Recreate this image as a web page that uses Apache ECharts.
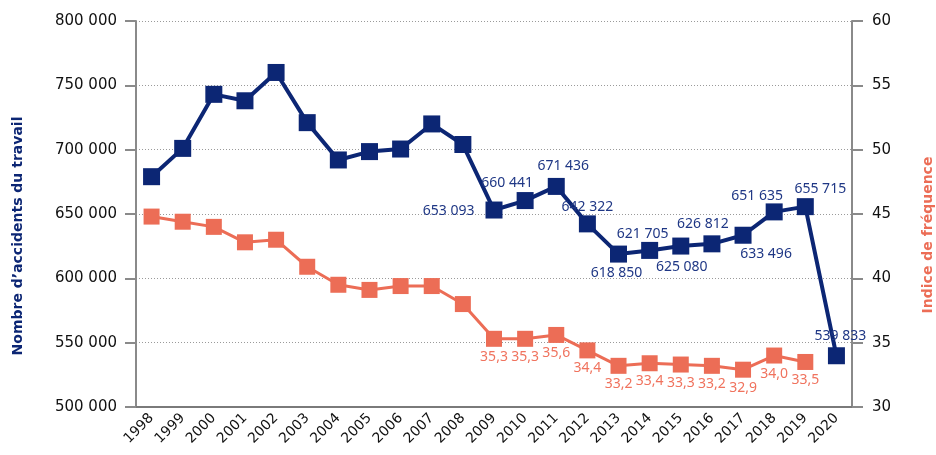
<!DOCTYPE html>
<html>
<head>
<meta charset="utf-8">
<script src="https://cdn.jsdelivr.net/npm/echarts@6/dist/echarts.min.js"></script>
<style>html,body{margin:0;padding:0;background:#fff}#c{width:936px;height:455px}</style>
</head>
<body>
<div id="c"></div>
<script>
const years = ['1998','1999','2000','2001','2002','2003','2004','2005','2006','2007','2008','2009','2010','2011','2012','2013','2014','2015','2016','2017','2018','2019','2020'];
const accidents = [679000, 701000, 743000, 738000, 760000, 721000, 692000, 698500, 700500, 720000, 704000, 653093, 660441, 671436, 642322, 618850, 621705, 625080, 626812, 633496, 651635, 655715, 539833];
const frequency = [44.8, 44.4, 44.0, 42.8, 43.0, 40.9, 39.5, 39.1, 39.4, 39.4, 38.0, 35.3, 35.3, 35.6, 34.4, 33.2, 33.4, 33.3, 33.2, 32.9, 34.0, 33.5, null];
const leftTicks = [500000, 800000, 50000];
const rightTicks = [30, 60, 5];
const leftTitle = "Nombre d’accidents du travail";
const rightTitle = 'Indice de fréquence';
const firstLabelled = 11; // 2009
// label placement for accidents labels (index from 2009)
const accLabelPlace = [
  ['left', [-6, 1]],
  ['top', [-18, 3]],
  ['top', [7, 0]],
  ['top', [0, 4]],
  ['bottom', [-2, -2]],
  ['top', [-7, 4]],
  ['bottom', [1, 0]],
  ['top', [-9, 1]],
  ['bottom', [23, -2]],
  ['top', [-17, 5]],
  ['top', [15, 3]],
  ['top', [4, 1]]
];
const BLUE = '#0c2674', ORANGE = '#ec6d56';
const BLUE_TXT = '#1f3785', ORANGE_TXT = '#f0735e';
const FONT = 'DejaVu Sans';
const LFONT = 'Noto Sans';
const fmtThousands = v => String(Math.round(v)).replace(/\B(?=(\d{3})+(?!\d))/g, ' ');
const fmtDec = v => v.toFixed(1).replace('.', ',');

const accData = accidents.map((v, i) => {
  if (i < firstLabelled) return v;
  const p = accLabelPlace[i - firstLabelled];
  return {value: v, label: {show: true, position: p[0], offset: p[1]}};
});
const freqData = frequency.map((v, i) => {
  if (v == null) return null;
  if (i < firstLabelled) return v;
  return {value: v, label: {show: true, position: 'bottom', offset: [0, -2]}};
});

const chart = echarts.init(document.getElementById('c'), null, {renderer: 'canvas'});
chart.setOption({
  animation: false,
  grid: {left: 136, right: 84, top: 21, bottom: 48, containLabel: false, outerBoundsMode: 'none'},
  graphic: [{
    type: 'text',
    rotation: Math.PI / 2,
    style: {text: leftTitle, fill: BLUE, font: 'bold 14px "DejaVu Sans"', textAlign: 'center', textVerticalAlign: 'middle'},
    x: 18, y: 236
  }, {
    type: 'text',
    rotation: Math.PI / 2,
    style: {text: rightTitle, fill: ORANGE, font: 'bold 14px "DejaVu Sans"', textAlign: 'center', textVerticalAlign: 'middle'},
    x: 928, y: 235
  }],
  xAxis: {
    type: 'category',
    data: years,
    boundaryGap: true,
    axisLine: {lineStyle: {color: '#7a7a7a', width: 2}},
    axisTick: {alignWithLabel: true, length: 8, lineStyle: {color: '#8a8a8a', width: 1}},
    axisLabel: {rotate: 45, margin: 9, color: '#111', fontFamily: FONT, fontSize: 14, interval: 0}
  },
  yAxis: [{
    type: 'value',
    min: leftTicks[0], max: leftTicks[1], interval: leftTicks[2],
    position: 'left',
    axisLine: {show: true, lineStyle: {color: '#8a8a8a', width: 2}},
    axisTick: {show: true, length: 11, lineStyle: {color: '#8a8a8a', width: 2}},
    axisLabel: {margin: 19, color: '#111', fontFamily: FONT, fontSize: 15, formatter: fmtThousands},
    splitLine: {show: true, lineStyle: {color: '#9a9a9a', type: [1, 2], width: 1}}
  }, {
    type: 'value',
    min: rightTicks[0], max: rightTicks[1], interval: rightTicks[2],
    position: 'right',
    axisLine: {show: true, lineStyle: {color: '#8a8a8a', width: 2}},
    axisTick: {show: true, length: 11, lineStyle: {color: '#8a8a8a', width: 2}},
    axisLabel: {margin: 20, color: '#111', fontFamily: FONT, fontSize: 15},
    splitLine: {show: false}
  }],
  series: [{
    type: 'line',
    yAxisIndex: 1,
    data: freqData,
    symbol: 'rect', symbolSize: 16,
    lineStyle: {color: ORANGE, width: 3},
    itemStyle: {color: ORANGE},
    label: {show: false, color: ORANGE_TXT, fontFamily: LFONT, fontSize: 14, formatter: p => fmtDec(p.value)},
    z: 2
  }, {
    type: 'line',
    yAxisIndex: 0,
    data: accData,
    symbol: 'rect', symbolSize: 17,
    lineStyle: {color: BLUE, width: 4},
    itemStyle: {color: BLUE},
    label: {show: false, color: BLUE_TXT, fontFamily: LFONT, fontSize: 14, formatter: p => fmtThousands(p.value)},
    z: 3
  }]
});
</script>
</body>
</html>
